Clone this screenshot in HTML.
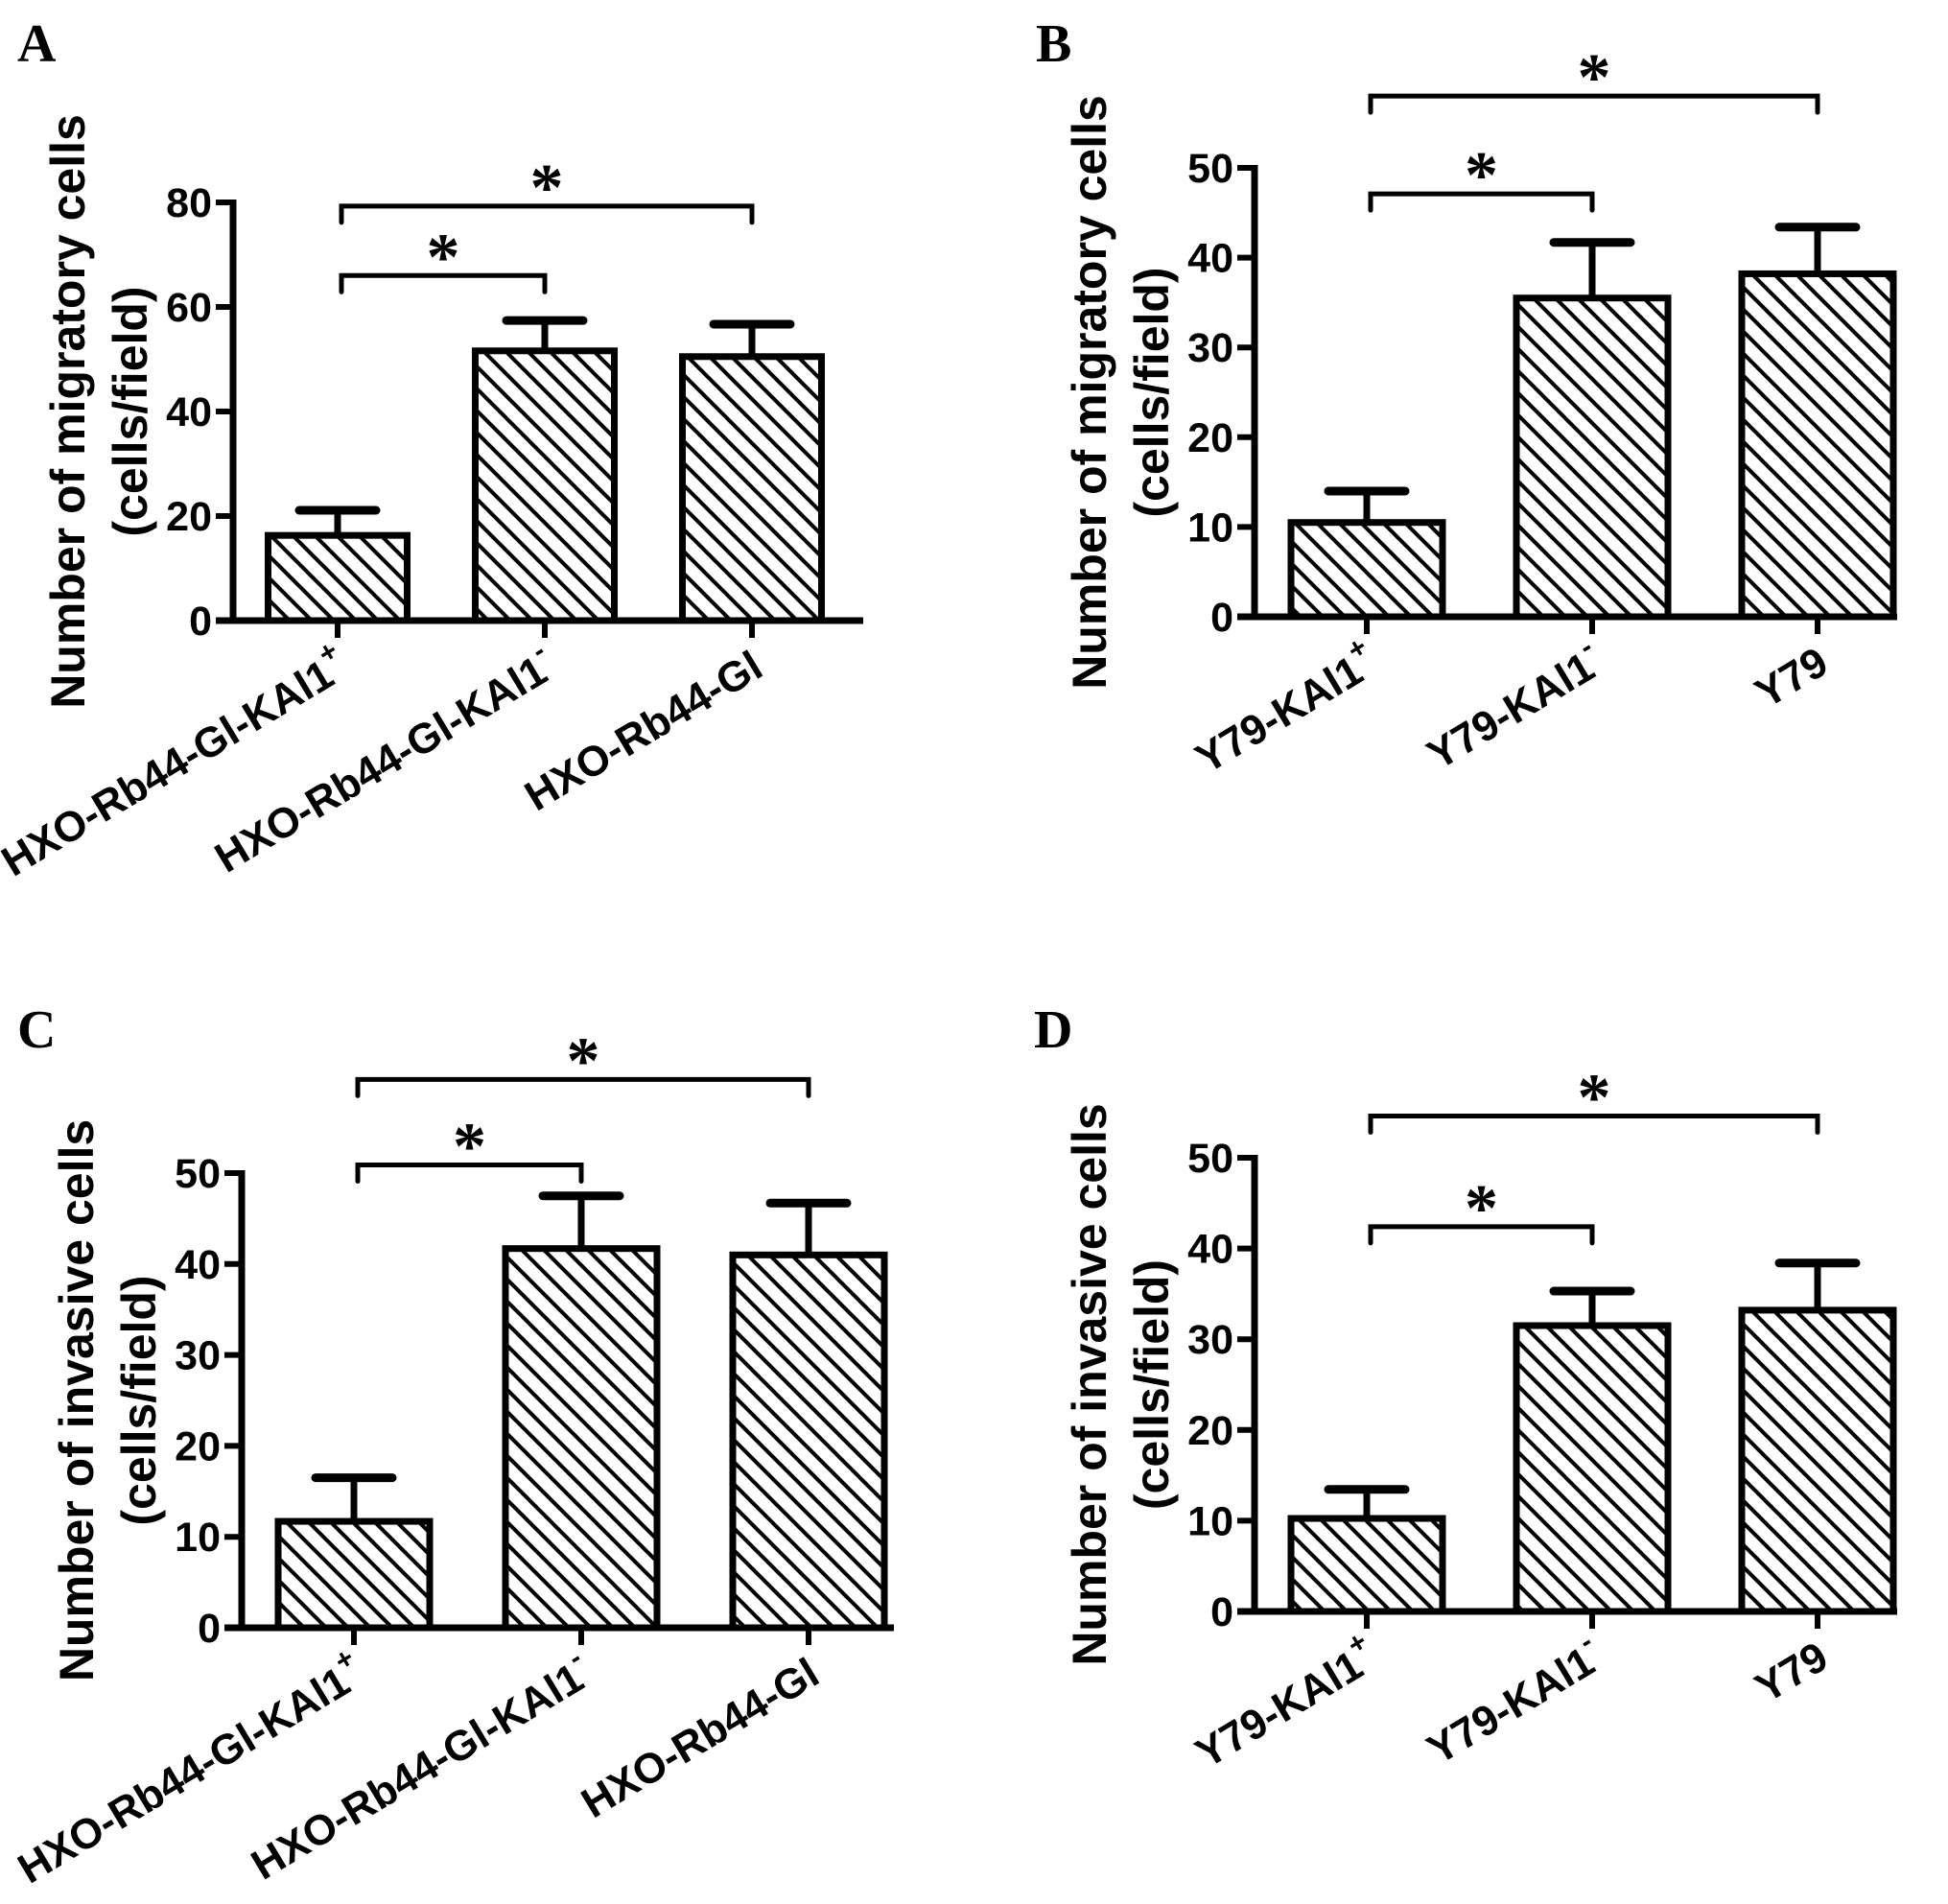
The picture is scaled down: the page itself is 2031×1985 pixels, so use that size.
<!DOCTYPE html>
<html><head><meta charset="utf-8"><style>
html,body{margin:0;padding:0;background:#fff}
svg{display:block}
text{font-family:"Liberation Sans",Arial,sans-serif;font-weight:bold;fill:#000}
.pl{font-family:"Liberation Serif","Times New Roman",serif;font-size:56px}
</style></head><body>
<svg id="fig" width="2031" height="1985" viewBox="0 0 2031 1985" xmlns="http://www.w3.org/2000/svg">
<defs>
<pattern id="hatch" patternUnits="userSpaceOnUse" width="23" height="23">
<line x1="-3" y1="-3" x2="26" y2="26" stroke="#000" stroke-width="4"/>
<line x1="-26" y1="-3" x2="3" y2="26" stroke="#000" stroke-width="4"/>
<line x1="20" y1="-3" x2="49" y2="26" stroke="#000" stroke-width="4"/>
</pattern>
</defs>
<text class="pl" x="18" y="64">A</text>
<text class="pl" x="1080" y="64">B</text>
<text class="pl" x="18" y="1092">C</text>
<text class="pl" x="1078" y="1092">D</text>
</svg>
<script>
// Panel A
const catsA = ["HXO-Rb44-Gl-KAl1|+", "HXO-Rb44-Gl-KAl1|-", "HXO-Rb44-Gl|"];
const valsA = [16.3, 51.6, 50.5];
const errsA = [4.8, 5.8, 6.2];
const ticksA = [0, 20, 40, 60, 80];
const sigA = [[0, 1, 66], [0, 2, 79.3]];
// Panel B
const catsB = ["Y79-KAl1|+", "Y79-KAl1|-", "Y79|"];
const valsB = [10.5, 35.5, 38.2];
const errsB = [3.5, 6.2, 5.2];
const ticksB = [0, 10, 20, 30, 40, 50];
const sigB = [[0, 1, 47.1], [0, 2, 58]];
// Panel C
const catsC = ["HXO-Rb44-Gl-KAl1|+", "HXO-Rb44-Gl-KAl1|-", "HXO-Rb44-Gl|"];
const valsC = [11.7, 41.7, 41.0];
const errsC = [4.8, 5.8, 5.7];
const ticksC = [0, 10, 20, 30, 40, 50];
const sigC = [[0, 1, 50.9], [0, 2, 60.3]];
// Panel D
const catsD = ["Y79-KAl1|+", "Y79-KAl1|-", "Y79|"];
const valsD = [10.25, 31.5, 33.2];
const errsD = [3.2, 3.8, 5.2];
const ticksD = [0, 10, 20, 30, 40, 50];
const sigD = [[0, 1, 42.4], [0, 2, 54.6]];

const NS = "http://www.w3.org/2000/svg";
const svg = document.getElementById("fig");
function mk(tag, attrs, parent) {
  const e = document.createElementNS(NS, tag);
  for (const k in attrs) e.setAttribute(k, attrs[k]);
  (parent || svg).appendChild(e);
  return e;
}

function panel(id, layout, cats, vals, errs, ticks, sigs, title) {
  const g = mk("g", {});
  
  
  const yMax = ticks[ticks.length - 1];
  const y = v => layout.y0 - (layout.y0 - layout.yTop) * v / yMax;
  const x = i => layout.c0 + layout.step * i;
  const ya = mk("line", {x1: layout.ax, y1: layout.yTop - 3, x2: layout.ax, y2: layout.y0 + 3, stroke: "#000", "stroke-width": 7}, g);
  
  
  ticks.forEach(t => {
    const tl = mk("line", {x1: layout.ax - 18, y1: y(t), x2: layout.ax, y2: y(t), stroke: "#000", "stroke-width": 6}, g);
    
    
    const tt = mk("text", {x: layout.ax - 22, y: y(t) + 15, "text-anchor": "end", "font-size": 43}, g);
    tt.textContent = t;
    
    
  });
  const xa = mk("line", {x1: layout.ax - 18, y1: layout.y0, x2: layout.xEnd, y2: layout.y0, stroke: "#000", "stroke-width": 7}, g);
  
  
  vals.forEach((v, i) => {
    const cx = x(i);
    const top = y(v);
    const et = y(v + errs[i]);
    const el = mk("line", {x1: cx, y1: top, x2: cx, y2: et, stroke: "#000", "stroke-width": 7}, g);
    
    
    const ec = mk("line", {x1: cx - 40, y1: et, x2: cx + 40, y2: et, stroke: "#000", "stroke-width": 9, "stroke-linecap": "round"}, g);
    
    
    const r = mk("rect", {x: cx - layout.bw / 2, y: top, width: layout.bw, height: layout.y0 - top, fill: "url(#hatch)", stroke: "#000", "stroke-width": 7}, g);
    
    
    const xt = mk("line", {x1: cx, y1: layout.y0, x2: cx, y2: layout.y0 + 18, stroke: "#000", "stroke-width": 6}, g);
    
    
    const parts = cats[i].split("|");
    const lt = mk("text", {"font-size": 44, "text-anchor": "end",
      transform: "translate(" + (cx + 14) + "," + (layout.y0 + 56) + ") rotate(-31)"}, g);
    
    
    lt.appendChild(document.createTextNode(parts[0]));
    if (parts[1]) {
      const sp = mk("tspan", {dy: -22, "font-size": 30}, lt);
      sp.textContent = parts[1];
    }
  });
  sigs.forEach(s => {
    const by = y(s[2]);
    const x1 = x(s[0]) + 4, x2 = x(s[1]);
    const p = mk("path", {d: "M" + x1 + "," + (by + 17) + " V" + by + " H" + x2 + " V" + (by + 17), fill: "none", stroke: "#000", "stroke-width": 5, "stroke-linecap": "round"}, g);
    
    
    const st = mk("text", {x: (x1 + x2) / 2, y: by + 4, "text-anchor": "middle", "font-size": 70, style: "font-family:'Liberation Serif',serif;font-weight:bold"}, g);
    st.textContent = "*";
    
    
  });
  const cy = (layout.y0 + layout.yTop) / 2;
  const t1 = mk("text", {"font-size": 50, "text-anchor": "middle", transform: "translate(" + (layout.ax - 155) + "," + cy + ") rotate(-90)"}, g);
  t1.textContent = title;
  
  
  const t2 = mk("text", {"font-size": 50, "text-anchor": "middle", transform: "translate(" + (layout.ax - 90) + "," + cy + ") rotate(-90)"}, g);
  t2.textContent = "(cells/field)";
  
  
}

panel("a", {ax: 243, y0: 647, yTop: 211, c0: 352, step: 216, bw: 145, xEnd: 900}, catsA, valsA, errsA, ticksA, sigA, "Number of migratory cells");
panel("b", {ax: 1308, y0: 643, yTop: 175, c0: 1425, step: 235, bw: 158, xEnd: 1978}, catsB, valsB, errsB, ticksB, sigB, "Number of migratory cells");
panel("c", {ax: 252, y0: 1697, yTop: 1223, c0: 369, step: 237, bw: 158, xEnd: 932}, catsC, valsC, errsC, ticksC, sigC, "Number of invasive cells");
panel("d", {ax: 1308, y0: 1680, yTop: 1207, c0: 1425, step: 235, bw: 158, xEnd: 1978}, catsD, valsD, errsD, ticksD, sigD, "Number of invasive cells");
</script>
</body></html>
